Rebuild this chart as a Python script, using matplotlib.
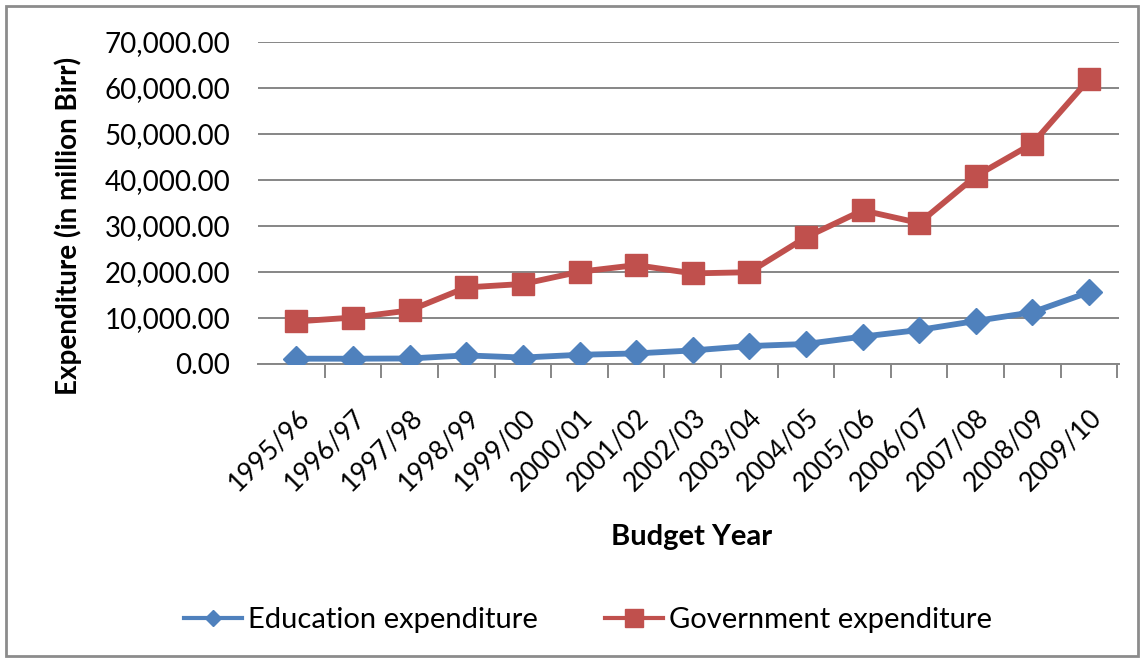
import numpy as np
import matplotlib.pyplot as plt
from matplotlib.patches import Rectangle
from matplotlib.lines import Line2D
from matplotlib.ticker import FuncFormatter, FixedLocator

# Budget years and expenditures (million Birr)
years = ["1995/96", "1996/97", "1997/98", "1998/99", "1999/00", "2000/01",
         "2001/02", "2002/03", "2003/04", "2004/05", "2005/06", "2006/07",
         "2007/08", "2008/09", "2009/10"]
education = [1150, 1150, 1200, 1870, 1400, 2000, 2300, 2950, 3900, 4350,
             5950, 7400, 9350, 11250, 15600]
government = [9250, 10100, 11650, 16650, 17400, 20050, 21500, 19700, 19950,
              27550, 33400, 30650, 40850, 47900, 61900]

plt.rcParams['font.family'] = ['Lato', 'DejaVu Sans']

blue = "#4F81BD"
red = "#C0504D"
grid_col = "#868686"

fig = plt.figure(figsize=(11.44, 6.62), dpi=100)
W, H = 1144, 662
ax = fig.add_axes([258 / W, 1 - 364 / H, (1119 - 258) / W, (364 - 42) / H])

x = np.arange(len(years))
ax.plot(x, education, color=blue, lw=4.2, marker="D", ms=13, zorder=3)
ax.plot(x, government, color=red, lw=4.2, marker="s", ms=16, zorder=3)

ax.set_xlim(-0.68, 14.53)
ax.set_ylim(0, 70000)
ax.set_yticks(np.arange(0, 70001, 10000))
ax.yaxis.set_major_formatter(FuncFormatter(lambda v, p: f"{v:,.2f}"))
ax.yaxis.grid(True, color=grid_col, lw=1.4)
ax.set_axisbelow(True)

ax.set_xticks(x)
ax.set_xticklabels(years, rotation=45, ha="right", rotation_mode="anchor")
ax.xaxis.set_minor_locator(FixedLocator(np.arange(0.5, 15, 1)))
ax.tick_params(axis="x", which="major", length=0, pad=29, labelsize=19)
ax.tick_params(axis="x", which="minor", length=10, color=grid_col, width=1.4)
ax.tick_params(axis="y", length=0, pad=20, labelsize=20)

for s in ["top", "right", "left"]:
    ax.spines[s].set_visible(False)
ax.spines["bottom"].set_color(grid_col)
ax.spines["bottom"].set_linewidth(1.4)

fig.text(68 / W, 1 - 226 / H, "Expenditure (in million Birr)", rotation=90,
         ha="center", va="center", fontsize=20, fontweight="bold")
fig.text(692 / W, 1 - 537 / H, "Budget Year", ha="center", va="center",
         fontsize=21, fontweight="bold")

# legend uses smaller markers than the plotted series
handles = [Line2D([], [], color=blue, lw=3, marker="D", ms=8),
           Line2D([], [], color=red, lw=3, marker="s", ms=13)]
fig.legend(handles, ["Education expenditure", "Government expenditure"],
           loc="center", bbox_to_anchor=(588 / W, 1 - 620 / H), ncol=2,
           frameon=False, fontsize=21, handlelength=2.0, columnspacing=2.3,
           handletextpad=0.2)

fig.patches.append(Rectangle((6 / W, 6 / H), 1 - 12 / W, 1 - 12 / H,
                             transform=fig.transFigure, fill=False,
                             edgecolor="#8C8C8C", lw=2))

fig.savefig("out.png", dpi=100)
